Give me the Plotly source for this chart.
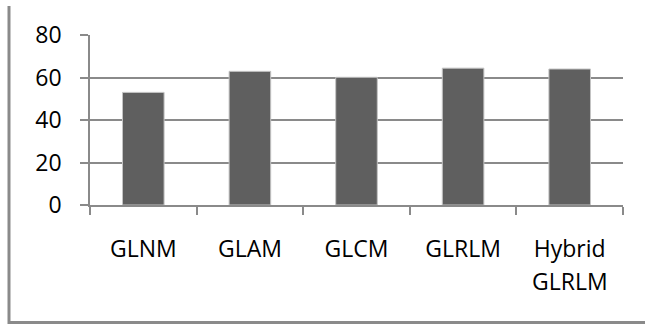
import plotly.graph_objects as go

# Texture feature methods and their scores
methods = ["GLNM", "GLAM", "GLCM", "GLRLM", "Hybrid GLRLM"]
scores = [53.0, 62.9, 60.1, 64.4, 64.0]
y_ticks = [0, 20, 40, 60, 80]

W, H = 645, 325
L, R, T, B = 90, 22, 35, 120
plot_w = W - L - R
plot_h = H - T - B

FONT = "Open Sans, Lato, sans-serif"
FSIZE = 23
GRID = "#8a8a8a"

# first line of each category label goes on the axis, second line (if any) below it
first_lines = [m.split(" ")[0] for m in methods]
second_lines = [" ".join(m.split(" ")[1:]) for m in methods]

fig = go.Figure(
    go.Bar(
        x=methods,
        y=scores,
        width=0.39,
        marker=dict(color="#5f5f5f", line=dict(color="#c4c4c4", width=1)),
    )
)

def px_x(px):
    return (px - L) / plot_w

def px_y(py):
    return (H - B - py) / plot_h

# frame on the left and bottom edge of the chart area, as one open path
frame_path = "M {:.5f},{:.5f} L {:.5f},{:.5f} L {:.5f},{:.5f}".format(
    px_x(9), px_y(6), px_x(9), px_y(322.5), px_x(W + 4), px_y(322.5)
)
shapes = [
    dict(type="path", xref="paper", yref="paper", path=frame_path,
         line=dict(color="#8a8a8a", width=3)),
]

annotations = []
for m, s in zip(methods, second_lines):
    if s:
        annotations.append(dict(
            x=m, xref="x", y=px_y(299), yref="paper",
            text=s, showarrow=False, xanchor="center", yanchor="bottom",
            font=dict(family=FONT, size=FSIZE, color="#000000"),
        ))

fig.update_layout(
    width=W, height=H,
    margin=dict(l=L, r=R, t=T, b=B, pad=0),
    paper_bgcolor="white", plot_bgcolor="white",
    showlegend=False,
    bargap=0.61,
    shapes=shapes,
    annotations=annotations,
    font=dict(family=FONT, size=FSIZE, color="#000000"),
)

fig.update_xaxes(
    type="category",
    tickmode="array", tickvals=methods, ticktext=first_lines,
    range=[-0.5, len(methods) - 0.5],
    tickson="boundaries",
    ticks="outside", ticklen=8, tickwidth=1.5, tickcolor=GRID,
    showline=True, linecolor=GRID, linewidth=1.5,
    showgrid=False, zeroline=False,
    ticklabelstandoff=23,
    tickfont=dict(family=FONT, size=FSIZE, color="#000000"),
)

fig.update_yaxes(
    range=[0, 80],
    tickmode="array", tickvals=y_ticks,
    ticks="outside", ticklen=8, tickwidth=1.5, tickcolor=GRID,
    showline=True, linecolor=GRID, linewidth=1.5,
    showgrid=True, gridcolor=GRID, gridwidth=1.5,
    zeroline=False,
    ticklabelstandoff=14,
    tickfont=dict(family=FONT, size=FSIZE, color="#000000"),
)

fig.write_html("out.html")
